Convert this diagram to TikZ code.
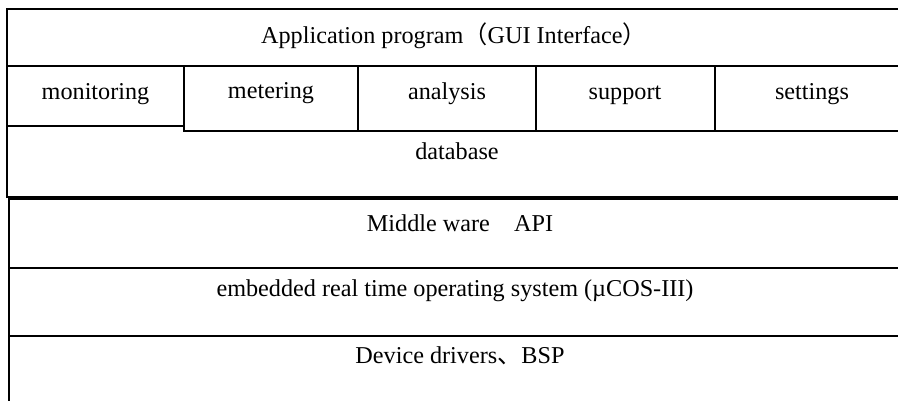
\documentclass[tikz,border=0pt]{standalone}
\usepackage{fontspec}
\setmainfont{Liberation Serif}
\newfontfamily\cjk{Noto Sans CJK SC}
\begin{document}
\begin{tikzpicture}[x=1pt,y=-1pt,
  thk/.style={line width=2pt},
  thn/.style={line width=1.3pt},
  lbl/.style={inner sep=0pt, anchor=base, font=\fontsize{24.2}{29}\selectfont}]
\useasboundingbox (0,0) rectangle (898,401);
% upper block
\draw[thk] (898,9) -- (7,9) -- (7,197) -- (898,197);
\draw[thn] (7,66) -- (898,66);
\draw[thn] (7,126) -- (184,126);
\draw[thn] (184,66) -- (184,131) -- (358,131);
\draw[thk] (358,66) -- (358,131) -- (898,131);
\draw[thk] (536,66) -- (536,131);
\draw[thk] (715,66) -- (715,131);
% lower block
\draw[thk] (898,199) -- (9,199) -- (9,401);
\draw[thn] (9,268) -- (898,268);
\draw[thn] (9,336) -- (898,336);
% texts
\node[lbl] (app) at (454,44) {Application program{\cjk （}GUI Interface{\cjk ）}};
\node[lbl] (mon) at (95.5,100) {monitoring};
\node[lbl] (met) at (271,99) {metering};
\node[lbl] (ana) at (447,100) {analysis};
\node[lbl] (sup) at (625,100) {support};
\node[lbl] (set) at (812,100) {settings};
\node[lbl] (db) at (457,160) {database};
\node[lbl] (mw) at (460,232) {Middle ware{\cjk 　}API};
\node[lbl] (os) at (455,297) {embedded real time operating system (µCOS-III)};
\node[lbl] (drv) at (460,363) {Device drivers{\cjk 、}BSP};
\end{tikzpicture}
\end{document}
